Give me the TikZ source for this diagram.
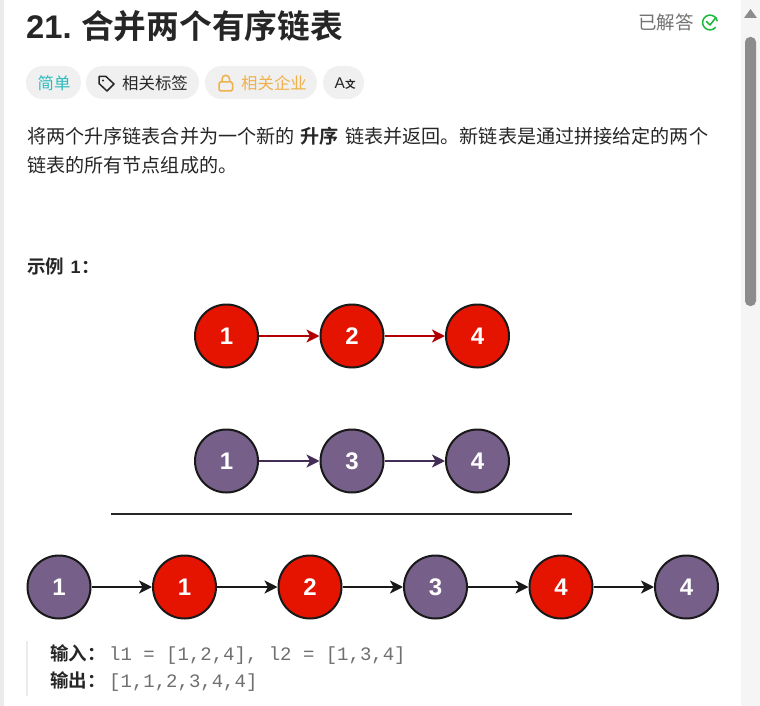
\documentclass[tikz,border=0pt]{standalone}
\usepackage{fontspec}
\setmainfont{Liberation Sans}
\newfontfamily\cjkfont{Noto Sans CJK SC}
\newfontfamily\cjkbold{Noto Sans CJK SC Bold}
\newfontfamily\codefont{Liberation Mono}
\usepackage{xcolor}
\usetikzlibrary{arrows.meta,positioning}
\definecolor{redfill}{HTML}{E51400}
\definecolor{purplefill}{HTML}{76608A}
\definecolor{redline}{HTML}{B20000}
\definecolor{purpleline}{HTML}{432D57}
\definecolor{pillgray}{HTML}{F0F0F0}
\definecolor{inkdark}{HTML}{262626}
\definecolor{solvedgreen}{HTML}{1CB83C}
\definecolor{lockgold}{HTML}{EFB04A}
\definecolor{easyteal}{HTML}{2CBBBD}
\definecolor{codegray}{HTML}{6F6F6F}

\begin{document}
\begin{tikzpicture}[
        x=1pt, y=-1pt,
        listnode/.style={circle, draw=black!90, line width=2pt, inner sep=0pt, minimum size=63pt, text=white, font=\fontsize{24}{24}\selectfont\bfseries},
        rednode/.style={listnode, fill=redfill},
        purplenode/.style={listnode, fill=purplefill},
        link/.style={-{Stealth[length=13pt,width=13pt,inset=3.5pt]}, line width=2.2pt},
        pill/.style={rounded corners=16.5pt, fill=pillgray, draw=none, minimum height=33pt, inner sep=0pt},
        txt/.style={inner sep=0pt, anchor=base west, text=inkdark},
        body/.style={txt, font=\fontsize{19.1}{19.1}\selectfont\cjkfont},
        tag/.style={txt, font=\fontsize{16.4}{16.4}\selectfont\cjkfont},
        strong/.style={txt, font=\fontsize{18.5}{18.5}\selectfont\cjkbold},
        code/.style={txt, text=codegray, font=\fontsize{19}{19}\selectfont\codefont}
    ]
    \useasboundingbox (0,0) rectangle (760,706);
    \fill[white] (0,0) rectangle (760,706);

    % page edge and scrollbar
    \fill[black!8] (0,0) rectangle (4,706);
    \fill[black!4] (741,0) rectangle (760,706);
    \fill[black!45] (744,18) -- (757,18) -- (750.5,9) -- cycle;
    \fill[black!45, rounded corners=5pt] (745,37) rectangle (756,306);

    % heading
    \node[txt, font=\fontsize{32.7}{32.7}\selectfont\bfseries] (num) at (26,38.5) {21.};
    \node[txt, font=\fontsize{32.7}{32.7}\selectfont\cjkbold] (title) at (81,38.5) {合并两个有序链表};
    \node[txt, text=black!55, font=\fontsize{18.5}{18.5}\selectfont\cjkfont] (solved) at (638,29.5) {已解答};
    \draw[solvedgreen, line width=1.5pt] (710,22.5) ++(40:7.4) arc[start angle=40, end angle=350, radius=7.4];
    \draw[solvedgreen, line width=1.5pt, line cap=round, line join=round] (706.5,21.5) -- (710,25) -- (716,17.5);

    % tags
    \node[pill, minimum width=55pt] (easybox) at (53.5,82.5) {};
    \node[pill, minimum width=113pt] (tagbox) at (142.5,82.5) {};
    \node[pill, minimum width=112pt] (lockbox) at (261,82.5) {};
    \node[pill, minimum width=41pt] (langbox) at (343.5,82.5) {};
    \node[tag, text=easyteal] (easy) at (37.5,90) {简单};
    \node[tag] (tags) at (122,90) {相关标签};
    \node[tag, text=lockgold] (company) at (241,90) {相关企业};
    \node[txt, font=\fontsize{15.5}{15.5}\selectfont] (langa) at (334.5,89) {A};
    \node[txt, font=\fontsize{10.5}{10.5}\selectfont\cjkbold] (langb) at (345,88.5) {文};
    \draw[inkdark, line width=1.5pt, line join=round] (99,76.5) -- (106,76.5) -- (114,84) -- (107,91) -- (99,83.5) -- cycle;
    \fill[inkdark] (103,80.5) circle (1.1pt);
    \draw[lockgold, line width=1.5pt, rounded corners=1.5pt] (219,82) rectangle (232.5,91);
    \draw[lockgold, line width=1.5pt] (222,82) -- (222,79) arc[start angle=180, end angle=360, radius=3.75] -- (229.5,82);

    % statement
    \node[body] (line1a) at (27,143.5) {将两个升序链表合并为一个新的};
    \node[txt, font=\fontsize{19.1}{19.1}\selectfont\cjkbold] (line1b) at (300.5,143.5) {升序};
    \node[body] (line1c) at (345,143.5) {链表并返回。新链表是通过拼接给定的两个};
    \node[body] (line2) at (27,172) {链表的所有节点组成的。};
    \node[strong] (example) at (27,273.5) {示例};
    \node[txt, font=\fontsize{18}{18}\selectfont\bfseries] (examplenum) at (70.5,273.5) {1};
    \node[strong] (examplecolon) at (81,273.5) {：};

    % first list
    \node[rednode] (a1) at (226.5,336) {1};
    \node[rednode] (a2) at (352,336) {2};
    \node[rednode] (a3) at (477.5,336) {4};
    \draw[link, redline] (a1) -- (a2);
    \draw[link, redline] (a2) -- (a3);

    % second list
    \node[purplenode] (b1) at (226.5,461) {1};
    \node[purplenode] (b2) at (352,461) {3};
    \node[purplenode] (b3) at (477.5,461) {4};
    \draw[link, purpleline] (b1) -- (b2);
    \draw[link, purpleline] (b2) -- (b3);

    \draw[line width=2pt, black!85] (111,513.5) -- (572,513.5);

    % merged list
    \node[purplenode] (c1) at (59,587) {1};
    \node[rednode] (c2) at (184.5,587) {1};
    \node[rednode] (c3) at (310,587) {2};
    \node[purplenode] (c4) at (435.5,587) {3};
    \node[rednode] (c5) at (561,587) {4};
    \node[purplenode] (c6) at (686.5,587) {4};
    \foreach \i/\j in {c1/c2,c2/c3,c3/c4,c4/c5,c5/c6}
        \draw[link, black!90] (\i) -- (\j);

    % answer block
    \fill[black!8] (26,641) rectangle (28,696);
    \node[strong] (inlabel) at (50,660.5) {输入：};
    \node[code] (invalue) at (109,660.5) {l1 = [1,2,4], l2 = [1,3,4]};
    \node[strong] (outlabel) at (50,687.5) {输出：};
    \node[code] (outvalue) at (109,687.5) {[1,1,2,3,4,4]};
\end{tikzpicture}
\end{document}
